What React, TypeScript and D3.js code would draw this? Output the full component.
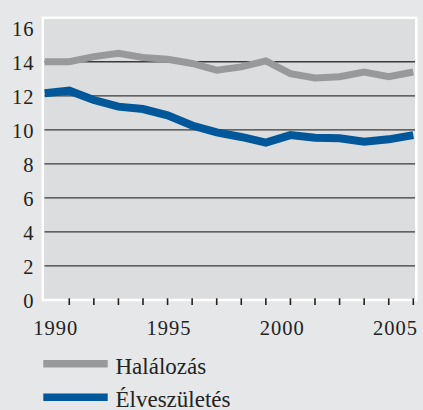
import React from "react";
import * as d3 from "d3";

const years = [1990, 1991, 1992, 1993, 1994, 1995, 1996, 1997, 1998, 1999, 2000, 2001, 2002, 2003, 2004, 2005];
const halalozas = [14.0, 14.0, 14.3, 14.5, 14.25, 14.15, 13.9, 13.5, 13.7, 14.05, 13.3, 13.05, 13.12, 13.4, 13.12, 13.4];
const elveszuletes = [12.15, 12.3, 11.75, 11.36, 11.22, 10.85, 10.25, 9.85, 9.58, 9.25, 9.69, 9.54, 9.5, 9.3, 9.44, 9.69];
const yTicks = [0, 2, 4, 6, 8, 10, 12, 14, 16];
const gridValues = [2, 4, 6, 8, 10, 12, 14];
const xLabelYears = [1990, 1995, 2000, 2005];
const seriesNames = ["Halálozás", "Élveszületés"];

const W = 423;
const H = 410;
const GRAY = "#98999b";
const BLUE = "#00579a";
const TEXT = "#222222";
const FONT = '"Liberation Serif"';

export default function App() {
  const plotLeft = 42.8;
  const plotTop = 17.8;
  const plotRight = 416.3;
  const plotBottom = 300;

  const x = d3.scaleLinear().domain([1990, 2005]).range([44.7, 413.3]);
  const y = d3.scaleLinear().domain([0, 16]).range([300, 27.7]);
  const xLabel = d3.scaleLinear().domain([1990, 2005]).range([55.8, 395.5]);

  const line = d3
    .line<number>()
    .x((_, i) => x(years[i]))
    .y((d) => y(d))
    .curve(d3.curveLinear);

  const series = [
    { name: seriesNames[0], values: halalozas, color: GRAY, width: 7 },
    { name: seriesNames[1], values: elveszuletes, color: BLUE, width: 8 },
  ];

  return (
    <svg
      width={W}
      height={H}
      style={{ position: "absolute", left: 0, top: 0, display: "block" }}
    >
      <rect x={0} y={0} width={W} height={H} fill="#e6e7e8" />
      <rect
        x={plotLeft}
        y={plotTop}
        width={plotRight - plotLeft}
        height={plotBottom - plotTop}
        fill="#dcdddf"
        stroke="#ffffff"
        strokeWidth={2.5}
      />
      {gridValues.map((v) => (
        <line
          key={v}
          x1={44.5}
          x2={415}
          y1={y(v)}
          y2={y(v)}
          stroke="#3a3a3a"
          strokeWidth={1.3}
        />
      ))}
      {years.slice(1).map((yr) => (
        <line
          key={yr}
          x1={x(yr)}
          x2={x(yr)}
          y1={298.3}
          y2={305}
          stroke="#222"
          strokeWidth={1.6}
        />
      ))}
      {series.map((s) => (
        <path
          key={s.name}
          d={line(s.values) || ""}
          fill="none"
          stroke={s.color}
          strokeWidth={s.width}
          strokeLinejoin="miter"
          strokeLinecap="butt"
        />
      ))}
      {yTicks.map((v) => (
        <text
          key={v}
          x={34.5}
          y={Math.max(y(v) + 1.5, plotTop + 5) + 6.9}
          textAnchor="end"
          fontSize={20.5}
          letterSpacing={1}
          fill={TEXT}
          style={{ fontFamily: FONT }}
        >
          {v}
        </text>
      ))}
      {xLabelYears.map((yr) => (
        <text
          key={yr}
          x={xLabel(yr)}
          y={334.5}
          textAnchor="middle"
          fontSize={20.5}
          letterSpacing={1}
          fill={TEXT}
          style={{ fontFamily: FONT }}
        >
          {yr}
        </text>
      ))}
      {series.map((s, i) => (
        <g key={s.name}>
          <line
            x1={43.3}
            x2={107.7}
            y1={363.7 + i * 33.5}
            y2={363.7 + i * 33.5}
            stroke={s.color}
            strokeWidth={7.5}
          />
          <text
            x={115.5}
            y={374.2 + i * 32.5}
            fontSize={23}
            fill={TEXT}
            style={{ fontFamily: FONT }}
          >
            {s.name}
          </text>
        </g>
      ))}
    </svg>
  );
}
